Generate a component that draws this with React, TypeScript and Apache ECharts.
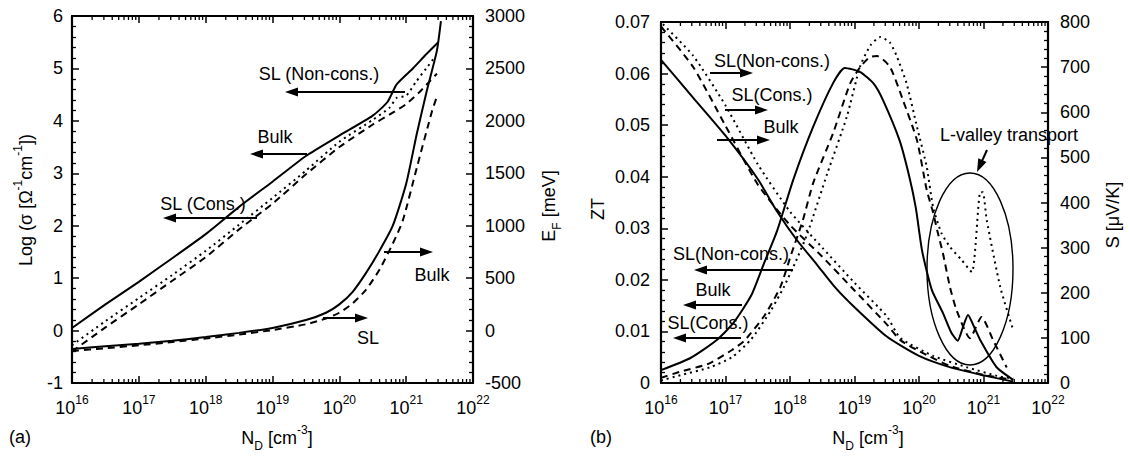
import React, { useEffect, useRef } from 'react';
import * as echarts from 'echarts';

const FONT = '"Liberation Sans", Arial, Helvetica, sans-serif';

// x values are log10(N_D / cm^-3)
const xExponents = [16, 17, 18, 19, 20, 21, 22];

// ---------- Panel (a) ----------
const sigmaTicks = [-1, 0, 1, 2, 3, 4, 5, 6];
const efTicks = [-500, 0, 500, 1000, 1500, 2000, 2500, 3000];

const sigmaSolid = [[16, 0.05], [16.5, 0.5], [17, 0.93], [17.5, 1.38], [18, 1.84], [18.5, 2.36], [19, 2.84], [19.5, 3.33], [20, 3.72], [20.5, 4.1], [20.72, 4.36], [20.86, 4.7], [21.1, 5.0], [21.3, 5.27], [21.48, 5.5]];
const sigmaDotted = [[16, -0.28], [16.5, 0.18], [17, 0.62], [17.5, 1.06], [18, 1.52], [18.5, 2.02], [19, 2.53], [19.5, 3.05], [20, 3.6], [20.5, 4.02], [20.75, 4.25], [20.86, 4.44], [21.0, 4.48], [21.15, 4.75], [21.3, 5.0], [21.43, 5.22]];
const sigmaDashed = [[16, -0.4], [16.5, 0.06], [17, 0.5], [17.5, 0.95], [18, 1.4], [18.5, 1.93], [19, 2.42], [19.5, 2.98], [20, 3.5], [20.5, 3.93], [20.75, 4.12], [21.0, 4.32], [21.2, 4.55], [21.35, 4.75], [21.46, 4.9]];
const efSolid = [[16, -175], [16.5, -150], [17, -125], [17.5, -98], [18, -62], [18.5, -22], [19, 25], [19.5, 100], [19.8, 170], [20, 250], [20.2, 370], [20.4, 550], [20.6, 760], [20.8, 1000], [21, 1400], [21.16, 1880], [21.31, 2290], [21.46, 2670], [21.52, 2950]];
const efDashed = [[16, -195], [16.5, -168], [17, -140], [17.5, -110], [18, -76], [18.5, -38], [19, 5], [19.5, 60], [19.8, 115], [20, 170], [20.2, 260], [20.4, 390], [20.6, 580], [20.8, 830], [20.95, 1050], [21.16, 1555], [21.39, 2100], [21.46, 2230]];

// ---------- Panel (b) ----------
const ztTicks = [0, 0.01, 0.02, 0.03, 0.04, 0.05, 0.06, 0.07];
const sTicks = [0, 100, 200, 300, 400, 500, 600, 700, 800];

const ztSolid = [[16, 0.0025], [16.45, 0.0048], [16.86, 0.0083], [17.12, 0.0116], [17.4, 0.017], [17.6, 0.0233], [17.8, 0.0295], [18.05, 0.0394], [18.36, 0.0497], [18.67, 0.0582], [18.85, 0.0611], [19.09, 0.0603], [19.3, 0.058], [19.44, 0.0549], [19.7, 0.047], [19.85, 0.040], [19.95, 0.034], [20.05, 0.0255], [20.2, 0.018], [20.37, 0.0136], [20.5, 0.0098], [20.6, 0.0082], [20.68, 0.0108], [20.76, 0.0132], [20.85, 0.011], [20.95, 0.0083], [21.2, 0.0031], [21.46, 0.0006]];
const ztDashed = [[16, 0.001], [16.3, 0.0022], [16.75, 0.0038], [17.1, 0.0064], [17.3, 0.0083], [17.6, 0.013], [17.85, 0.0186], [18.02, 0.025], [18.2, 0.0316], [18.36, 0.0388], [18.67, 0.0485], [18.93, 0.058], [19.09, 0.0613], [19.24, 0.0632], [19.35, 0.0634], [19.55, 0.0613], [19.75, 0.0549], [19.97, 0.047], [20.12, 0.0374], [20.22, 0.033], [20.28, 0.0297], [20.37, 0.0252], [20.48, 0.0186], [20.58, 0.0142], [20.79, 0.0087], [20.97, 0.0128], [21.15, 0.0083], [21.36, 0.003]];
const ztDotted = [[16, 0.0005], [16.3, 0.0015], [16.75, 0.003], [17.1, 0.005], [17.4, 0.0085], [17.7, 0.014], [17.9, 0.0185], [18.08, 0.0233], [18.27, 0.029], [18.58, 0.0407], [18.88, 0.0516], [19.09, 0.0615], [19.25, 0.0655], [19.4, 0.0671], [19.55, 0.066], [19.66, 0.0632], [19.81, 0.058], [19.97, 0.0496], [20.12, 0.0419], [20.22, 0.034], [20.35, 0.029], [20.48, 0.0264], [20.65, 0.024], [20.82, 0.0215], [20.95, 0.037], [20.99, 0.037], [21.05, 0.0316], [21.26, 0.0186], [21.46, 0.0103]];
const sSolid = [[16, 716], [16.5, 632], [17, 548], [17.5, 452], [17.8, 380], [18.1, 318], [18.42, 262], [18.7, 212], [19, 168], [19.5, 103], [20, 60], [20.5, 34], [21, 17], [21.46, 3]];
const sDashed = [[16, 790], [16.5, 700], [17, 570], [17.5, 440], [18, 350], [18.5, 280], [19, 205], [19.5, 130], [19.71, 95], [20.12, 62], [20.48, 38], [21, 18], [21.46, 7]];
const sDotted = [[16.03, 795], [16.5, 725], [17, 615], [17.5, 485], [18, 380], [18.5, 300], [19, 222], [19.5, 148], [19.71, 100], [20.22, 60], [20.74, 35], [21.26, 14], [21.46, 11]];

// minor log ticks (2..9 within each decade)
const minorLogTicks: number[][] = [];
for (let d = xExponents[0]; d < xExponents[xExponents.length - 1]; d++) {
  for (let k = 2; k <= 9; k++) minorLogTicks.push([d + Math.log10(k), 0]);
}

const BLACK = '#000';
const SOLID = { color: BLACK, width: 2, type: 'solid' as const };
const DASHED = { color: BLACK, width: 2, type: [7, 5] as any };
const DOTTED = { color: BLACK, width: 2, type: [2, 4] as any };

function lineSeries(data: number[][], xi: number, yi: number, lineStyle: any) {
  return {
    type: 'line', data, xAxisIndex: xi, yAxisIndex: yi, showSymbol: false, symbol: 'none',
    smooth: 0.2, lineStyle, silent: true, clip: true, z: 3,
  };
}

function minorTickSeries(xi: number, yi: number) {
  return {
    type: 'custom', xAxisIndex: xi, yAxisIndex: yi, data: minorLogTicks, silent: true, z: 4,
    renderItem: (params: any, api: any) => {
      const x = api.coord([api.value(0), api.value(1)])[0];
      const cs = params.coordSys;
      const bottom = cs.y + cs.height;
      const top = cs.y;
      return {
        type: 'group',
        children: [
          { type: 'line', shape: { x1: x, y1: bottom, x2: x, y2: bottom - 4 }, style: { stroke: BLACK, lineWidth: 1.3 } },
          { type: 'line', shape: { x1: x, y1: top, x2: x, y2: top + 4 }, style: { stroke: BLACK, lineWidth: 1.3 } },
        ],
      };
    },
  };
}

const axisLine = { show: true, onZero: false, lineStyle: { color: BLACK, width: 2.2 } };
const majorTick = { show: true, inside: true, length: 7, lineStyle: { color: BLACK, width: 1.5 } };
const minorTick = { show: true, splitNumber: 5, length: 4, lineStyle: { color: BLACK, width: 1.3 } };

const xLabel = {
  show: true,
  margin: 11,
  formatter: (v: number) => `{b|10}{s|${Math.round(v)}}`,
  rich: {
    b: { fontSize: 18, fontFamily: FONT, color: BLACK, lineHeight: 28 },
    s: { fontSize: 12, fontFamily: FONT, color: BLACK, lineHeight: 11, verticalAlign: 'top' },
  },
};

function xAxisDef(gridIndex: number, position: 'top' | 'bottom') {
  return {
    type: 'value', gridIndex, position,
    min: xExponents[0], max: xExponents[xExponents.length - 1], interval: 1,
    axisLine, axisTick: majorTick,
    axisLabel: position === 'bottom' ? xLabel : { show: false },
    splitLine: { show: false },
  };
}

function yAxisDef(gridIndex: number, position: 'left' | 'right', ticks: number[], margin: number, fmt: (v: number) => string) {
  return {
    type: 'value', gridIndex, position,
    min: ticks[0], max: ticks[ticks.length - 1], interval: ticks[1] - ticks[0],
    axisLine, axisTick: majorTick, minorTick,
    axisLabel: { show: true, margin, fontSize: 18, fontFamily: FONT, color: BLACK, formatter: fmt },
    splitLine: { show: false }, minorSplitLine: { show: false },
  };
}

// ---------- annotations (pixel positions) ----------
function arrow(x1: number, y1: number, x2: number, y2: number): any[] {
  const dx = x2 - x1, dy = y2 - y1;
  const len = Math.sqrt(dx * dx + dy * dy);
  const ux = dx / len, uy = dy / len;
  const hl = 13, hw = 4.5;
  const bx = x2 - ux * hl, by = y2 - uy * hl;
  return [
    { type: 'line', shape: { x1, y1, x2: bx + ux * 2, y2: by + uy * 2 }, style: { stroke: BLACK, lineWidth: 2 }, z: 10 },
    { type: 'polygon', shape: { points: [[x2, y2], [bx - uy * hw, by + ux * hw], [bx + uy * hw, by - ux * hw]] }, style: { fill: BLACK }, z: 10 },
  ];
}

function label(text: string, x: number, y: number, size = 18): any {
  return {
    type: 'text', x, y, z: 10,
    style: { text, fill: BLACK, fontSize: size, fontFamily: FONT, align: 'center', verticalAlign: 'middle' },
  };
}

const richBase = { fontSize: 18, fontFamily: FONT, fill: BLACK, color: BLACK, lineHeight: 28 };
const richSup = { fontSize: 12, fontFamily: FONT, fill: BLACK, color: BLACK, lineHeight: 11, verticalAlign: 'top' };
const richSub = { fontSize: 12, fontFamily: FONT, fill: BLACK, color: BLACK, lineHeight: 8, verticalAlign: 'bottom' };

function richLabel(text: string, x: number, y: number, rotation = 0): any {
  return {
    type: 'text', x, y, rotation, z: 10,
    style: {
      text, fill: BLACK, fontSize: 18, fontFamily: FONT, align: 'center', verticalAlign: 'middle',
      rich: { n: richBase, s: richSup, d: richSub },
    },
  };
}

const graphics: any[] = [
  // panel (a) titles
  richLabel('{n|Log (σ [Ω}{s|-1}{n|cm}{s|-1}{n|])}', 26, 200, Math.PI / 2),
  richLabel('{n|E}{d|F}{n| [meV]}', 549, 206, Math.PI / 2),
  richLabel('{n|N}{d|D}{n| [cm}{s|-3}{n|]}', 277, 438),
  label('(a)', 20, 437),
  // panel (b) titles
  richLabel('{n|ZT}', 598, 209, Math.PI / 2),
  richLabel('{n|S [μV/K]}', 1113, 215, Math.PI / 2),
  richLabel('{n|N}{d|D}{n| [cm}{s|-3}{n|]}', 868, 438),
  label('(b)', 601, 437),
  // panel (a) annotations
  label('SL (Non-cons.)', 319, 74),
  ...arrow(405, 92, 285, 92),
  label('Bulk', 275, 137),
  ...arrow(307, 154, 250, 154),
  label('SL (Cons.)', 203, 204),
  ...arrow(257, 218, 163, 218),
  ...arrow(384, 252, 433, 252),
  label('Bulk', 432, 275),
  ...arrow(323, 318, 368, 318),
  label('SL', 368, 338),
  // panel (b) annotations
  label('SL(Non-cons.)', 772, 61),
  ...arrow(710, 73, 753, 73),
  label('SL(Cons.)', 772, 95),
  ...arrow(725, 110, 768, 110),
  label('Bulk', 781, 127),
  ...arrow(717, 140, 770, 140),
  label('SL(Non-cons.)', 731, 254),
  ...arrow(793, 270, 694, 270),
  label('Bulk', 713, 290),
  ...arrow(742, 305, 683, 305),
  label('SL(Cons.)', 708, 323),
  ...arrow(741, 338, 673, 338),
  label('L-valley transport', 1009, 135),
  ...arrow(987, 150, 977, 172),
  { type: 'ellipse', shape: { cx: 970, cy: 269, rx: 43, ry: 96 }, style: { fill: 'none', stroke: BLACK, lineWidth: 1.4 }, z: 9 },
];

const option: any = {
  animation: false,
  backgroundColor: '#fff',
  grid: [
    { left: 72, top: 16, width: 401, height: 367, containLabel: false },
    { left: 661, top: 22, width: 387, height: 361, containLabel: false },
  ],
  xAxis: [
    xAxisDef(0, 'bottom'),
    xAxisDef(0, 'top'),
    xAxisDef(1, 'bottom'),
    xAxisDef(1, 'top'),
  ],
  yAxis: [
    yAxisDef(0, 'left', sigmaTicks, 9, (v) => String(Math.round(v))),
    yAxisDef(0, 'right', efTicks, 12, (v) => String(Math.round(v))),
    yAxisDef(1, 'left', ztTicks, 11, (v) => (Math.abs(v) < 1e-9 ? '0' : v.toFixed(2))),
    yAxisDef(1, 'right', sTicks, 12, (v) => String(Math.round(v))),
  ],
  series: [
    lineSeries(sigmaSolid, 0, 0, SOLID),
    lineSeries(sigmaDotted, 0, 0, DOTTED),
    lineSeries(sigmaDashed, 0, 0, DASHED),
    lineSeries(efSolid, 0, 1, SOLID),
    lineSeries(efDashed, 0, 1, DASHED),
    minorTickSeries(0, 0),
    lineSeries(ztSolid, 2, 2, SOLID),
    lineSeries(ztDashed, 2, 2, DASHED),
    lineSeries(ztDotted, 2, 2, DOTTED),
    lineSeries(sSolid, 2, 3, SOLID),
    lineSeries(sDashed, 2, 3, DASHED),
    lineSeries(sDotted, 2, 3, DOTTED),
    minorTickSeries(2, 2),
  ],
  graphic: graphics,
};

export default function App() {
  const ref = useRef<HTMLDivElement>(null);
  useEffect(() => {
    const chart = echarts.init(ref.current!, null, { renderer: 'svg' });
    chart.setOption(option);
    return () => chart.dispose();
  }, []);
  return (
    <div
      ref={ref}
      style={{ position: 'fixed', left: 0, top: 0, width: 1130, height: 459, background: '#fff' }}
    />
  );
}
